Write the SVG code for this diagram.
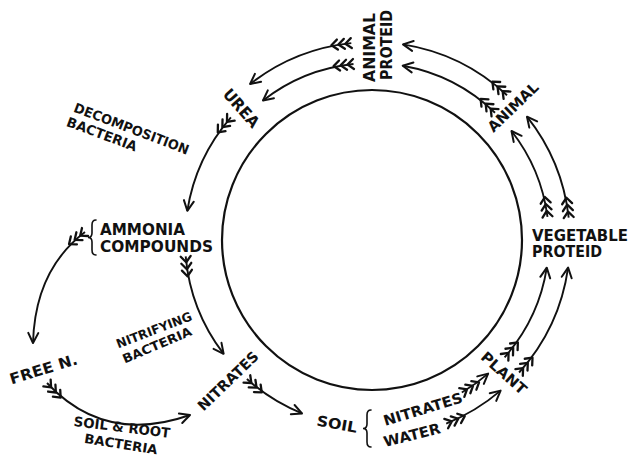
<svg xmlns="http://www.w3.org/2000/svg" width="632" height="455" viewBox="0 0 632 455">
<style>
  .lbl { font-family: "DejaVu Sans", "Liberation Sans", Arial, sans-serif; font-weight: bold; fill: #111; }
  .arr { fill: none; stroke: #111; stroke-width: 1.9; marker-start: url(#fletch); marker-end: url(#head); }
  .brace { fill: none; stroke: #111; stroke-width: 1.6; stroke-linecap: round; }
</style>
<defs>
  <marker id="head" viewBox="-12 -7 14 14" markerWidth="14" markerHeight="14" refX="0" refY="0" orient="auto" markerUnits="userSpaceOnUse">
    <path d="M-10,-5 L0,0 L-10,5" fill="none" stroke="#111" stroke-width="2" stroke-linecap="round" stroke-linejoin="round"/>
  </marker>
  <marker id="fletch" viewBox="-2 -7 26 14" markerWidth="26" markerHeight="14" refX="0" refY="0" orient="auto" markerUnits="userSpaceOnUse">
    <path d="M0,-5 L6,0 L0,5 M7,-5 L13,0 L7,5 M14,-5 L20,0 L14,5" fill="none" stroke="#111" stroke-width="2.3" stroke-linecap="round" stroke-linejoin="round"/>
  </marker>
</defs>

<g id="cycle-circle">
  <circle cx="372" cy="240" r="150" fill="none" stroke="#111" stroke-width="2.2"/>
</g>

<g id="connectors">
  <path id="a1" class="arr" d="M351.3,43.1 A198,198 0 0 0 250.1,84.0"/>
  <path id="a2" class="arr" d="M353.5,64.0 A177,177 0 0 0 263.0,100.5"/>
  <path id="b1" class="arr" d="M507.0,95.2 A198,198 0 0 0 403.0,44.4"/>
  <path id="b2" class="arr" d="M495.0,112.7 A177,177 0 0 0 402.7,65.7"/>
  <path id="c1" class="arr" d="M568.7,217.6 A198,198 0 0 0 527.0,116.7"/>
  <path id="c2" class="arr" d="M547.5,216.9 A177,177 0 0 0 511.5,131.0"/>
  <path id="d1" class="arr" d="M519.1,372.5 A198,198 0 0 0 568.1,267.6"/>
  <path id="d2" class="arr" d="M504.6,357.3 A177,177 0 0 0 546.8,267.7"/>
  <path id="e" class="arr" d="M461.8,392.5 A177,177 0 0 0 488.1,373.6"/>
  <path id="f" class="arr" d="M446.2,423.6 A198,198 0 0 0 500.6,390.6"/>
  <path id="g" class="arr" d="M230.9,117.3 A187,187 0 0 0 187.3,210.8"/>
  <path id="h" class="arr" d="M185.7,256.3 A187,187 0 0 0 223.6,353.8"/>
  <path id="i" class="arr" d="M246.9,379.0 A187,187 0 0 0 302.0,413.4"/>
  <path id="j" class="arr" d="M85,232 Q35,270 33,343"/>
  <path id="k" class="arr" d="M47,383 Q105,445 190,415"/>
</g>

<g id="node-animal-proteid">
  <text class="lbl" font-size="16.5" transform="translate(374.5,82) rotate(-90)" textLength="69" lengthAdjust="spacingAndGlyphs">ANIMAL</text>
  <text class="lbl" font-size="16.5" transform="translate(392,80) rotate(-90)" textLength="70" lengthAdjust="spacingAndGlyphs">PROTEID</text>
</g>

<g id="node-urea">
  <text class="lbl" font-size="16" text-anchor="middle" transform="translate(241.5,108) rotate(48.5)" y="5.8" textLength="46" lengthAdjust="spacingAndGlyphs">UREA</text>
</g>

<g id="label-decomposition">
  <text class="lbl" font-size="13.5" text-anchor="middle" transform="translate(131.5,128.5) rotate(20.8)" y="4.9" textLength="122" lengthAdjust="spacingAndGlyphs">DECOMPOSITION</text>
  <text class="lbl" font-size="13.5" text-anchor="middle" transform="translate(102,134) rotate(20.4)" y="4.9" textLength="74" lengthAdjust="spacingAndGlyphs">BACTERIA</text>
</g>

<g id="node-ammonia">
  <path class="brace" d="M96,220 Q92,220 92,225 L92,233 Q92,237.5 88,237.5 Q92,237.5 92,242 L92,250 Q92,255 96,255"/>
  <text class="lbl" font-size="16" x="100" y="235" textLength="85" lengthAdjust="spacingAndGlyphs">AMMONIA</text>
  <text class="lbl" font-size="16" x="100" y="252" textLength="113" lengthAdjust="spacingAndGlyphs">COMPOUNDS</text>
</g>

<g id="node-free-n">
  <text class="lbl" font-size="15" text-anchor="middle" transform="translate(43.5,369) rotate(-17)" y="5.4" textLength="70" lengthAdjust="spacingAndGlyphs">FREE N.</text>
</g>

<g id="label-nitrifying">
  <text class="lbl" font-size="12.5" text-anchor="middle" transform="translate(154,330) rotate(-21)" y="4.5" textLength="80" lengthAdjust="spacingAndGlyphs">NITRIFYING</text>
  <text class="lbl" font-size="12.5" text-anchor="middle" transform="translate(157,345) rotate(-23)" y="4.5" textLength="74" lengthAdjust="spacingAndGlyphs">BACTERIA</text>
</g>

<g id="node-nitrates">
  <text class="lbl" font-size="14.5" text-anchor="middle" transform="translate(228,381) rotate(-44)" y="5.2" textLength="78" lengthAdjust="spacingAndGlyphs">NITRATES</text>
</g>

<g id="label-soil-root">
  <text class="lbl" font-size="13.5" text-anchor="middle" transform="translate(122,427) rotate(7)" y="4.9" textLength="97" lengthAdjust="spacingAndGlyphs">SOIL &amp; ROOT</text>
  <text class="lbl" font-size="13" text-anchor="middle" transform="translate(121,444) rotate(9)" y="4.7" textLength="74" lengthAdjust="spacingAndGlyphs">BACTERIA</text>
</g>

<g id="node-soil">
  <text class="lbl" font-size="14.5" text-anchor="middle" transform="translate(337,424) rotate(10)" y="5.2" textLength="41" lengthAdjust="spacingAndGlyphs">SOIL</text>
  <path class="brace" d="M371,410 Q367,410 367,415 L367,424 Q367,428.5 363,428.5 Q367,428.5 367,433 L367,442 Q367,447 371,447"/>
  <text class="lbl" font-size="14.5" text-anchor="middle" transform="translate(423,409) rotate(-17)" y="5.2" textLength="82" lengthAdjust="spacingAndGlyphs">NITRATES</text>
  <text class="lbl" font-size="14.5" text-anchor="middle" transform="translate(412,435) rotate(-14)" y="5.2" textLength="58" lengthAdjust="spacingAndGlyphs">WATER</text>
</g>

<g id="node-plant">
  <text class="lbl" font-size="14.5" text-anchor="middle" transform="translate(504,373) rotate(42)" y="5.2" textLength="56" lengthAdjust="spacingAndGlyphs">PLANT</text>
</g>

<g id="node-vegetable-proteid">
  <text class="lbl" font-size="15.5" x="532" y="241" textLength="96" lengthAdjust="spacingAndGlyphs">VEGETABLE</text>
  <text class="lbl" font-size="15.5" x="532" y="257" textLength="70" lengthAdjust="spacingAndGlyphs">PROTEID</text>
</g>

<g id="node-animal">
  <text class="lbl" font-size="14.5" text-anchor="middle" transform="translate(513,107) rotate(-44)" y="5.2" textLength="64" lengthAdjust="spacingAndGlyphs">ANIMAL</text>
</g>
</svg>
